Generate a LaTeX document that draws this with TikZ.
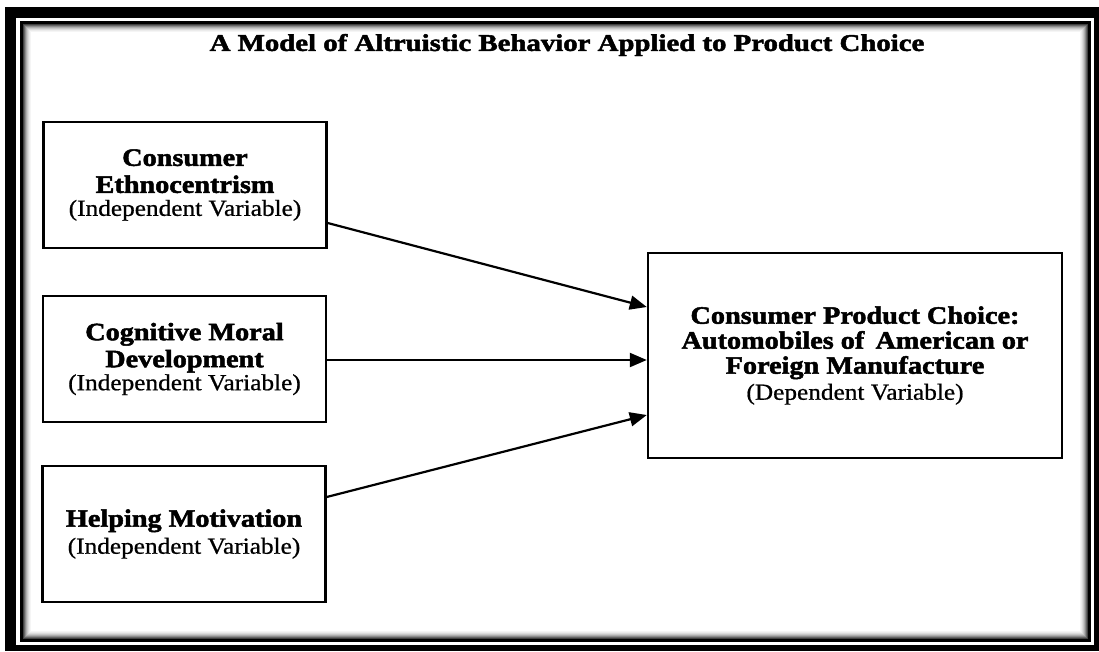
\documentclass[tikz,border=0pt]{standalone}
\usepackage{fontspec}
\setmainfont{Liberation Serif}
\newfontfamily\titlefont{Liberation Serif Bold}[FakeStretch=1.2, FakeBold=2]
\newfontfamily\boxfont{Liberation Serif Bold}[FakeStretch=1.13, FakeBold=2]
\newfontfamily\varfont{Liberation Serif}[FakeStretch=1.1, FakeBold=0.8]
\usetikzlibrary{arrows.meta}

\newcommand{\bnamefont}{\boxfont\fontsize{25}{25}\selectfont}
\newcommand{\vname}[1]{{\varfont\fontsize{23}{25}\selectfont #1}}

\tikzset{
  varbox/.style={draw=black, line width=2.4pt, fill=white, align=center,
    minimum width=283pt, minimum height=126pt, inner sep=0pt, font=\bnamefont},
  depbox/.style={draw=black, line width=2.4pt, fill=white, align=center,
    minimum width=414pt, minimum height=205pt, inner sep=0pt, font=\bnamefont},
  link/.style={line width=2.2pt, -{Triangle[length=17pt,width=14pt]}},
  shade line/.style={line width=1pt}
}

\begin{document}
\begin{tikzpicture}[x=1pt, y=-1pt]
\useasboundingbox (0,0) rectangle (1099,651);
\fill[white] (0,0) rectangle (1099,651);

% double frame
\fill[black] (5,7) rectangle (1099,651);
\fill[white] (16,18) rectangle (1094,645);
\fill[black] (20,21) rectangle (1091,642);
\fill[white] (23,24) rectangle (1088,639);
% soft inner shadow along the frame
\foreach \i/\g in {0/75,1/60,2/45,3/32,4/22,5/14,6/8,7/4} {
  \draw[shade line, draw=black!\g] (23.5+\i,24.5+\i) rectangle (1087.5-\i,638.5-\i);
}

% title
\node[font=\titlefont\fontsize{24}{26}\selectfont] (title) at (567,45) {A Model of Altruistic Behavior Applied to Product Choice};

% independent variables
\node[varbox] (b1) at (185,185) {Consumer\\[2pt]Ethnocentrism\\[-2pt]\vname{(Independent Variable)}};
\node[varbox] (b2) at (184.5,359) {Cognitive Moral\\[2pt]Development\\[-2pt]\vname{(Independent Variable)}};
\node[varbox, minimum height=136pt] (b3) at (184,534) {Helping Motivation\\[2pt]\vname{(Independent Variable)}};

% dependent variable
\node[depbox] (dep) at (855,355.5) {Consumer Product Choice:\\Automobiles of\, American or\\Foreign Manufacture\\[1pt]\vname{(Dependent Variable)}};

% relations
\draw[link] ([yshift=-38pt]b1.east) -- ([yshift=48.5pt]dep.west);
\draw[link] ([yshift=-1pt]b2.east) -- ([yshift=-4.5pt]dep.west);
\draw[link] ([yshift=37pt]b3.east) -- ([yshift=-59.5pt]dep.west);
\end{tikzpicture}
\end{document}
